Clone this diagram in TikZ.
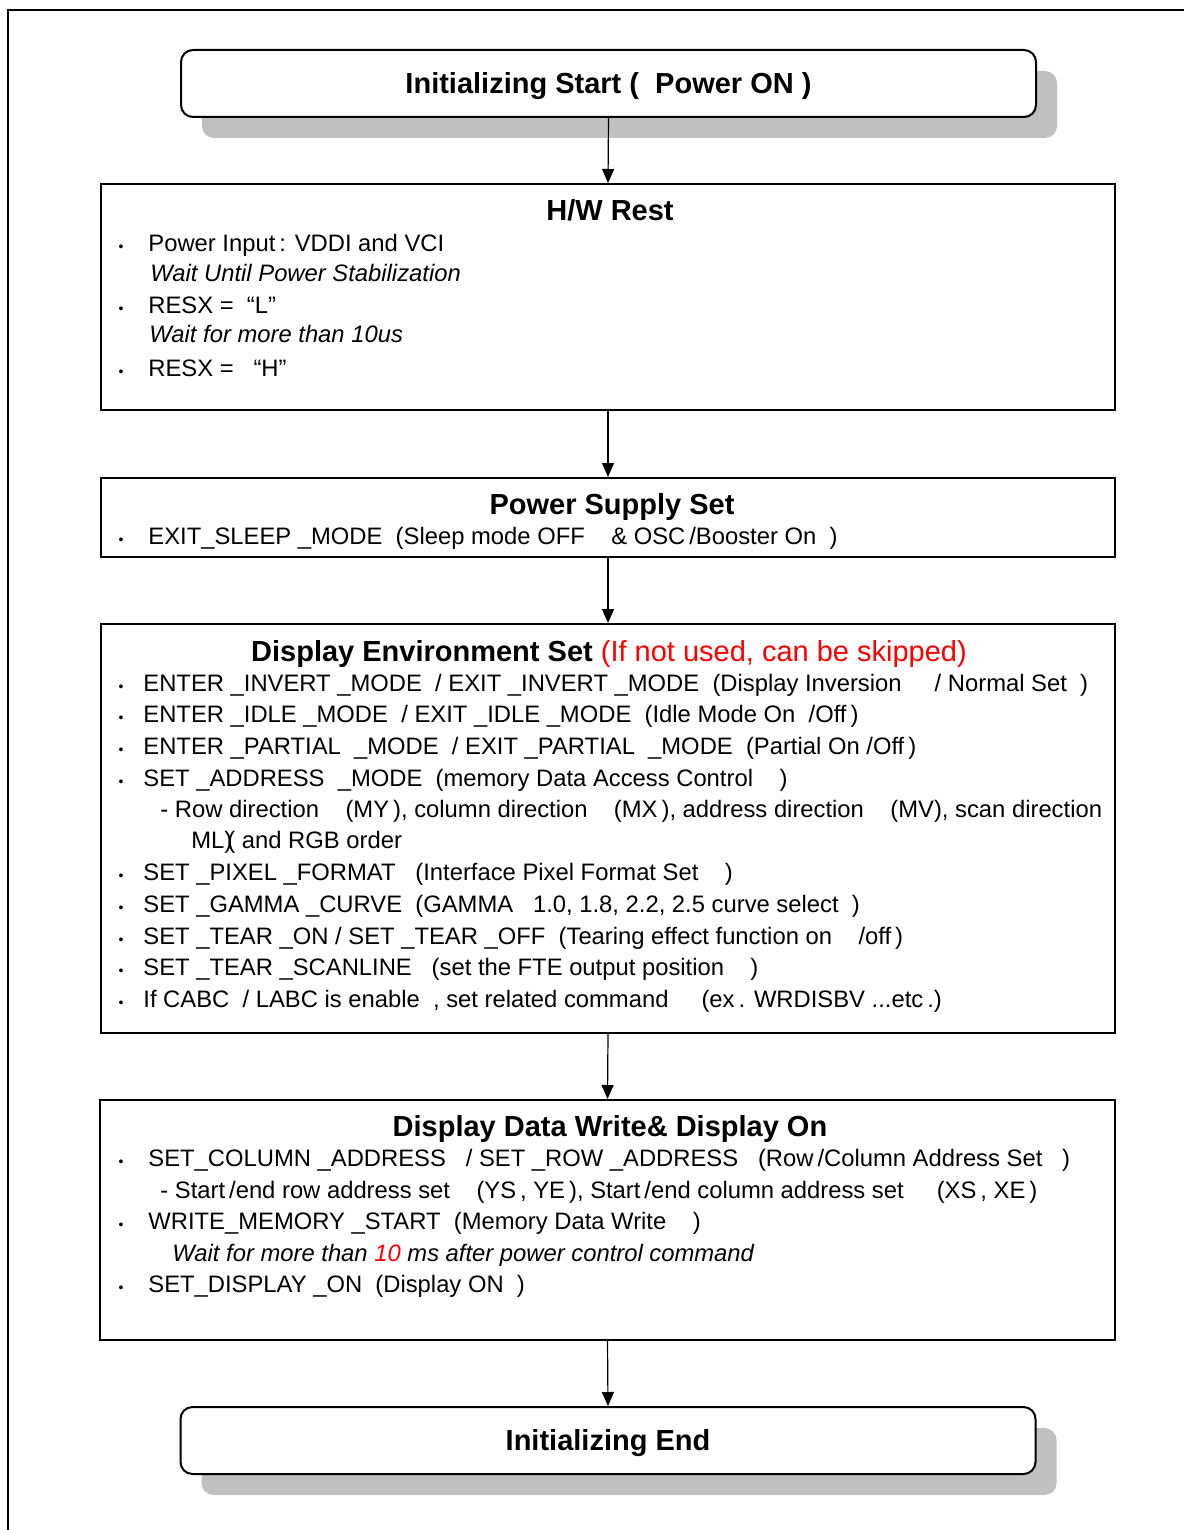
\documentclass[tikz,border=0pt]{standalone}
\usepackage{fontspec}
\setmainfont{Liberation Sans}
\usetikzlibrary{arrows.meta,shadows}
\definecolor{shadowgray}{RGB}{192,192,192}
\newcommand{\bodyfont}{\fontsize{11.9}{14}\selectfont}
\newcommand{\titlefont}{\fontsize{14.5}{17}\selectfont\bfseries}
\newcommand{\bul}[1]{\llap{{\fontsize{7}{8}\selectfont\textbullet}\hspace{#1}}}
\begin{document}
\begin{tikzpicture}[x=0.5pt, y=-0.5pt,
	box/.style={draw, line width=1pt},
	endbox/.style={
		draw, line width=1pt, fill=white,
		rounded corners=6pt,
		drop shadow={shadow xshift=10.5pt, shadow yshift=-10.5pt, fill=shadowgray, opacity=1},
		font=\titlefont, text height=10.4pt, text depth=0pt,
		minimum width=427.5pt, minimum height=33.5pt
	},
	title/.style={font=\titlefont, inner sep=0pt, text height=10.4pt, text depth=0pt},
	txt/.style={font=\bodyfont, anchor=west, inner sep=0pt, text height=8.5pt, text depth=0pt},
	flow/.style={-{Triangle[length=7pt,width=6pt]}, line width=0.6pt}
	]
	
	\useasboundingbox (0,0) rectangle (1184,1530);
	
	%Rahmen
	\draw[line width=1pt] (8,1530) -- (8,10) -- (1184,10);
	
	%Kaesten
	\node[endbox] (start) at (608.5,83.5) {Initializing Start (~~Power ON~)};
	\node[box, minimum width=507pt, minimum height=113pt]   (hwrest)    at (608,297)    {};
	\node[box, minimum width=507pt, minimum height=39.5pt]  (power)     at (608,517.5)  {};
	\node[box, minimum width=507pt, minimum height=204.5pt] (dispenv)   at (608,828.5)  {};
	\node[box, minimum width=507.5pt, minimum height=120pt] (datawrite) at (607.5,1220) {};
	\node[endbox] (finish) at (608,1440.5) {Initializing End};
	
	\draw[flow] (start.south) -- (hwrest.north);
	\draw[flow] (hwrest.south) -- (power.north);
	\draw[flow] (power.south) -- (dispenv.north);
	\draw[flow] (dispenv.south) -- (datawrite.north);
	\draw[flow] (datawrite.south) -- (finish.north);
	
	%H/W Rest
	\node[title] (hwtitle) at (610,210) {H/W Rest};
	\node[txt] (hw1) at (148,243) {\bul{12.5pt}Power Input\,: VDDI and VCI};
	\node[txt] (hw2) at (150,273) {\itshape Wait Until Power Stabilization};
	\node[txt] (hw3) at (148,305) {\bul{12.5pt}RESX =~~“L”};
	\node[txt] (hw4) at (149,334) {\itshape Wait for more than 10us};
	\node[txt] (hw5) at (148,368) {\bul{12.5pt}RESX =~~~“H”};
	
	%Power Supply
	\node[title] (pstitle) at (612,504) {Power Supply Set};
	\node[txt] (ps1) at (148,536) {\bul{12.5pt}EXIT\_SLEEP~\_MODE~~(Sleep mode OFF~~~~\& OSC\,/Booster On~~)};
	
	%Display Environment
	\node[title] (detitle) at (609,651) {Display Environment Set {\mdseries\color{red}(If not used, can be skipped)}};
	\node[txt] (de1)  at (143,683) {\bul{10pt}ENTER~\_INVERT~\_MODE~~/ EXIT~\_INVERT~\_MODE~~(Display Inversion~~~~~/ Normal Set~~)};
	\node[txt] (de2)  at (143,714) {\bul{10pt}ENTER~\_IDLE~\_MODE~~/ EXIT~\_IDLE~\_MODE~~(Idle Mode On~~/Off\,)};
	\node[txt] (de3)  at (143,746) {\bul{10pt}ENTER~\_PARTIAL~~\_MODE~~/ EXIT~\_PARTIAL~~\_MODE~~(Partial On~/Off\,)};
	\node[txt] (de4)  at (143,778) {\bul{10pt}SET~\_ADDRESS~~\_MODE~~(memory Data Access Control~~~~)};
	\node[txt] (de5)  at (160,809) {- Row direction~~~~(MY\,), column direction~~~~(MX\,), address direction~~~~(MV), scan direction};
	\node[txt] (de6)  at (191,840) {ML)\kern-2.5pt( and RGB order};
	\node[txt] (de7)  at (143,872) {\bul{10pt}SET~\_PIXEL~\_FORMAT~~~(Interface Pixel Format Set~~~~)};
	\node[txt] (de8)  at (143,904) {\bul{10pt}SET~\_GAMMA~\_CURVE~~(GAMMA~~~1.0,~1.8,~2.2,~2.5 curve select~~)};
	\node[txt] (de9)  at (143,936) {\bul{10pt}SET~\_TEAR~\_ON~/ SET~\_TEAR~\_OFF~~(Tearing effect function on~~~~/off\,)};
	\node[txt] (de10) at (143,967) {\bul{10pt}SET~\_TEAR~\_SCANLINE~~~(set the FTE output position~~~~)};
	\node[txt] (de11) at (143,999) {\bul{10pt}If CABC~~/ LABC is enable~~, set related command~~~~~(ex\,. WRDISBV~...etc\,.)};
	
	%Display Data Write
	\node[title] (dwtitle) at (610,1126) {Display Data Write\& Display On};
	\node[txt] (dw1) at (148,1158) {\bul{12.5pt}SET\_COLUMN~\_ADDRESS~~~/ SET~\_ROW~\_ADDRESS~~~(Row\,/Column Address Set~~~)};
	\node[txt] (dw2) at (160,1190) {- Start\,/end row address set~~~~(YS\,, YE\,), Start\,/end column address set~~~~~(XS\,, XE\,)};
	\node[txt] (dw3) at (148,1221) {\bul{12.5pt}WRITE\_MEMORY~\_START~~(Memory Data Write~~~~)};
	\node[txt] (dw4) at (172,1253) {\itshape Wait for more than {\color{red}10} ms after power control command};
	\node[txt] (dw5) at (148,1284) {\bul{12.5pt}SET\_DISPLAY~\_ON~~(Display ON~~)};
	
\end{tikzpicture}
\end{document}
